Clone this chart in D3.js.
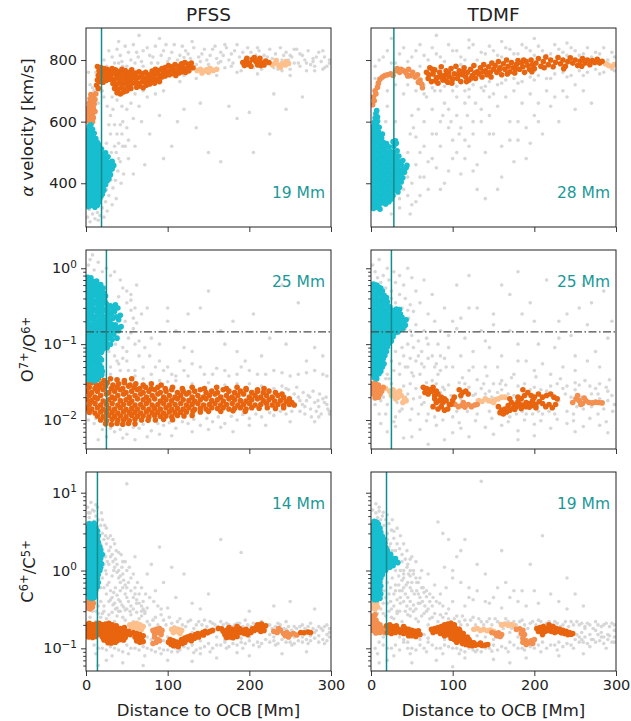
<!DOCTYPE html>
<html>
<head>
<meta charset="utf-8">
<script src="https://cdn.jsdelivr.net/npm/d3@7"></script>
<style>
  body { margin: 0; background: #fff; }
  text { font-family: "DejaVu Sans", sans-serif; }
</style>
</head>
<body>
<svg id="chart" width="631" height="721"></svg>
<script>
// ---------------------------------------------------------------- data
// x = distance to OCB [Mm], y = measured quantity
const columns = ["PFSS", "TDMF"];
const ocbWidth = [[19, 28], [25, 25], [14, 19]]; // boundary width per row, per column
const o7Threshold = 0.145;

// row 1: alpha velocity, PFSS
const pfssVelCyan = [[3,324],[7,328],[11,322],[14,329],[1,339],[5,336],[9,341],[13,335],[16,340],[3,352],[7,349],[11,354],[15,350],[18,355],[1,365],[5,362],[9,367],[13,363],[17,368],[20,364],[3,378],[7,375],[11,380],[15,376],[19,381],[22,377],[1,391],[5,388],[9,393],[13,389],[17,394],[21,390],[24,395],[3,404],[7,401],[11,406],[15,402],[19,407],[23,403],[26,408],[1,417],[5,414],[9,419],[13,415],[17,420],[21,416],[25,421],[28,415],[3,430],[7,427],[11,432],[15,428],[19,433],[23,429],[27,434],[30,428],[1,443],[5,440],[9,445],[13,441],[17,446],[21,442],[25,447],[29,441],[32,446],[3,456],[7,453],[11,458],[15,454],[19,459],[23,455],[27,460],[31,454],[34,458],[1,469],[5,466],[9,471],[13,467],[17,472],[21,468],[25,473],[29,467],[32,471],[3,482],[7,479],[11,484],[15,480],[19,485],[23,481],[27,486],[1,495],[5,492],[9,497],[13,493],[17,498],[21,494],[24,499],[3,508],[7,505],[11,510],[15,506],[19,511],[1,521],[5,518],[9,523],[13,519],[16,524],[3,534],[7,531],[11,536],[14,532],[1,547],[5,544],[9,549],[12,545],[3,560],[7,557],[10,562],[2,573],[5,570],[8,575],[4,585],[6,590]];
const pfssVelMid = [[2,602],[5,606],[8,600],[3,616],[6,620],[9,613],[2,630],[5,634],[8,628],[11,633],[3,645],[6,649],[9,643],[4,660],[7,664],[10,657],[5,674],[8,678],[11,672],[6,688],[9,685],[12,690]];
const pfssVelLight = [[136,766],[140,770],[144,764],[148,769],[152,772],[156,766],[160,770],[142,758],[150,760],[228,785],[232,790],[236,782],[240,788],[244,784],[248,789],[233,798],[238,776],[245,795]];
const pfssVelOrange = [[14,779],[18,776],[22,772],[26,770],[16,765],[20,760],[24,757],[28,762],[15,750],[19,746],[23,742],[27,748],[14,735],[17,730],[21,728],[25,734],[13,718],[15,708],[29,738],[30,752],
  [32,772],[36,768],[40,763],[44,770],[48,766],[52,760],[56,768],[33,756],[37,752],[41,748],[45,755],[49,750],[53,746],[57,752],[31,740],[35,736],[39,742],[43,736],[47,740],[51,734],[55,738],[59,744],[33,724],[37,720],[41,726],[45,722],[49,727],[53,721],[57,725],[35,708],[39,704],[43,710],[47,706],[51,712],[55,708],[38,694],[42,690],[46,696],[50,700],
  [61,758],[65,762],[69,755],[73,760],[77,752],[81,764],[85,770],[89,766],[93,772],[97,776],[63,742],[67,746],[71,740],[75,744],[79,748],[83,752],[87,756],[91,750],[95,760],[99,762],[61,728],[65,724],[69,730],[73,726],[77,732],[81,736],[85,738],[89,740],[93,745],[97,748],[62,712],[66,716],[70,710],[74,718],[78,722],[84,725],[90,730],
  [101,782],[105,778],[109,785],[113,780],[117,788],[121,792],[125,786],[129,790],[103,766],[107,770],[111,764],[115,772],[119,776],[123,772],[127,778],[131,775],[102,752],[106,756],[110,750],[114,758],[118,762],[122,760],[126,765],
  [192,792],[196,798],[200,790],[204,802],[208,795],[212,800],[216,790],[220,797],[224,792],[194,782],[198,786],[202,780],[210,785],[214,782],[218,784],[197,806],[206,808],[213,806]];
const pfssVelGray = [[22,800],[28,830],[35,790],[42,815],[48,845],[55,800],[62,825],[68,795],[75,840],[82,810],[88,790],[95,830],[102,805],[108,850],[115,815],[122,830],[128,805],[135,785],[142,820],[148,800],[155,835],[162,790],[168,815],[175,800],[182,830],[188,810],[195,780],[202,825],[208,815],[215,770],[222,810],[228,805],[235,770],[242,815],[248,800],[255,790],[262,820],[268,800],[275,785],[282,810],[288,795],[295,780],
  [30,760],[45,780],[60,790],[80,790],[100,795],[120,808],[140,795],[160,805],[180,790],[200,805],[220,785],[240,800],[260,790],[280,780],[298,800],[150,760],[170,775],[190,765],[230,775],[250,770],[270,765],[290,770],[135,740],[115,730],[250,750],[210,755],[40,860],[90,870],[130,860],[170,850],[210,840],[255,835],[290,830],[65,880],
  [25,780],[32,810],[38,835],[44,795],[52,825],[58,850],[64,810],[70,830],[78,815],[85,845],[92,815],[98,850],[105,825],[112,800],[118,845],[125,820],[132,840],[138,810],[145,835],[152,815],[158,845],[165,825],[172,840],[178,820],[185,850],[192,825],[198,840],[205,800],[212,830],[218,815],[225,835],[232,820],[238,840],[245,825],[252,810],[258,835],[265,815],[272,830],[278,805],[285,825],[292,810],[298,790],[150,785],[165,795],[178,780],[195,795],[205,775],[225,790],[245,785],[262,780],[278,795],[292,775],[185,760],[240,765],[280,765],[160,750],[130,770],[110,770],[90,770],[70,780],[50,780],[40,790],[120,750],[210,780],[250,815],[270,790],
  [2,290],[5,275],[8,300],[11,285],[14,305],[4,315],[17,295],[20,320],[24,340],[28,360],[33,385],[36,410],[39,440],[42,470],[37,500],[40,530],[44,560],[35,590],[30,620],[26,650],[22,680],[18,700],[45,600],[50,640],[55,660],[48,520],[52,480],[46,430],[30,560],[25,530],[32,680],[40,700],[60,690],[70,700],[12,690],[8,710],[5,720],[3,760],
  [6,330],[9,350],[3,380],[25,380],[30,410],[28,440],[33,470],[35,520],[27,460],[31,500],[38,560],[42,590],[28,590],[33,640],[38,670],[45,690],[48,720],[15,660],[20,700],[10,700],[55,720],[62,710],[50,580],[58,610],[65,650],[75,680],[85,690],[95,700],[52,540],[45,520],[40,480],[43,400],[37,350],[32,330],[26,310],[15,280],[22,290],[44,650],[36,720],[25,740],[12,760],[18,740],
  [68,600],[78,560],[90,620],[105,520],[120,640],[135,580],[150,500],[165,470],[185,610],[205,500],[225,560],[245,640],[265,680],[58,430],[72,460],[95,480],[112,600],[140,660],[175,650],[200,630],[230,690],[60,520]];

// row 1: alpha velocity, TDMF
const tdmfVelCyan = [[3,318],[7,322],[11,316],[2,332],[6,335],[10,330],[14,337],[18,333],[22,340],[1,346],[5,349],[9,344],[13,351],[17,347],[21,353],[25,349],[3,360],[7,363],[11,358],[15,365],[19,361],[23,366],[27,360],[1,374],[5,377],[9,372],[13,379],[17,375],[21,380],[25,374],[29,378],[33,372],[3,388],[7,391],[11,386],[15,393],[19,389],[23,394],[27,388],[31,392],[35,387],[1,402],[5,405],[9,400],[13,407],[17,403],[21,408],[25,402],[29,406],[33,400],[37,404],[3,416],[7,419],[11,414],[15,421],[19,417],[23,422],[27,416],[31,420],[35,414],[39,418],[1,430],[5,433],[9,428],[13,435],[17,431],[21,436],[25,430],[29,434],[33,428],[37,432],[41,436],[3,444],[7,447],[11,442],[15,449],[19,445],[23,450],[27,444],[31,448],[35,442],[39,446],[43,450],[1,458],[5,461],[9,456],[13,463],[17,459],[21,464],[25,458],[29,462],[33,456],[37,460],[44,458],[3,472],[7,475],[11,470],[15,477],[19,473],[23,478],[27,472],[31,476],[35,470],[39,474],[1,486],[5,489],[9,484],[13,491],[17,487],[21,492],[25,486],[29,490],[34,488],[3,500],[7,503],[11,498],[15,505],[19,501],[24,504],[28,500],[32,505],[1,514],[5,517],[9,512],[13,519],[17,515],[22,518],[28,520],[31,530],[27,535],[30,538],[3,528],[7,531],[11,526],[15,533],[19,529],[1,542],[5,545],[9,540],[13,547],[3,556],[7,559],[11,554],[14,560],[1,570],[5,573],[9,568],[3,584],[7,587],[10,582],[4,598],[8,601],[5,612],[8,615],[6,626],[7,636]];
const tdmfVelMid = [[2,655],[4,668],[3,680],[6,690],[5,700],[8,712],[9,725],[11,738],[14,745],[17,750],[20,752],[24,755],[27,750],[30,765],[32,772],[35,760],[37,770],[40,765],[43,758],[46,770],[48,750],[51,760],[54,745],[57,752],[60,735],[62,722],[63,710],[58,728],[45,748]];
const tdmfVelLight = [[287,788],[291,782],[295,778],[298,785]];
const tdmfVelOrange = [[68,760],[70,740],[72,775],[74,730],[76,755],[78,768],[80,742],[82,725],[84,760],[86,778],[88,735],[90,750],[92,765],[94,728],[96,745],[98,772],[100,738],[71,752],[79,732],[87,748],[95,758],[99,725],[75,770],[83,745],[91,735],
  [102,755],[104,780],[106,740],[108,765],[110,730],[112,752],[114,775],[116,745],[118,760],[120,735],[122,770],[124,750],[126,782],[128,740],[130,762],[132,755],[134,775],[136,745],[138,785],[140,765],[142,752],[144,778],[146,760],[148,790],[150,770],[107,752],[117,730],[127,758],[137,762],[147,745],[113,762],[123,742],
  [152,782],[154,760],[156,795],[158,775],[160,752],[162,788],[164,770],[166,800],[168,780],[170,762],[172,792],[174,775],[176,758],[178,785],[180,798],[182,770],[184,790],[186,778],[188,760],[190,795],[192,782],[194,770],[196,800],[198,785],[200,772],[157,768],[167,755],[177,770],[187,800],[197,762],
  [202,790],[205,805],[208,780],[211,795],[214,810],[217,785],[220,800],[223,778],[226,793],[229,808],[232,788],[235,800],[238,780],[241,795],[244,807],[247,790],[250,800],[253,782],[256,796],[259,805],[262,790],[265,800],[268,785],[271,798],[274,792],[277,802],[280,790],[283,796],[212,775],[236,772],[258,780]];
const tdmfVelGray = [[10,800],[20,830],[30,790],[40,840],[50,810],[60,850],[70,800],[80,820],[90,795],[100,830],[110,810],[120,840],[130,800],[140,820],[150,830],[160,810],[170,835],[180,820],[190,840],[200,815],[210,830],[220,820],[230,835],[240,815],[250,830],[260,820],[270,810],[280,820],[290,800],[298,810],[35,760],[55,700],[65,690],[75,710],[85,700],[105,715],[115,700],[125,720],[135,710],[145,730],[155,720],[165,735],[175,740],[185,730],[195,745],[205,750],[215,740],[225,755],[235,760],[245,750],[255,765],[265,760],[275,770],[285,760],[295,770],[60,780],[110,785],[160,860],[200,870],[80,880],[240,855],[120,865],[25,870],
  [5,780],[15,810],[25,790],[35,820],[45,795],[55,830],[65,815],[75,840],[85,810],[95,850],[105,830],[115,800],[125,850],[135,825],[145,845],[155,815],[165,840],[175,820],[185,850],[195,830],[205,845],[215,815],[225,850],[235,825],[245,840],[255,815],[265,840],[275,825],[285,840],[295,825],[90,715],[100,700],[120,705],[140,715],[160,725],[180,725],[200,735],[220,740],[240,745],[260,750],[280,755],[298,765],[270,790],[290,790],[240,790],[210,790],[15,750],[45,720],[50,745],[65,720],[20,700],[30,720],[40,690],[10,720],[5,740],
  [15,330],[25,300],[35,320],[45,360],[55,340],[50,400],[60,420],[70,380],[80,450],[90,400],[100,480],[110,430],[120,520],[130,460],[140,500],[150,560],[160,420],[170,600],[180,540],[190,480],[200,620],[210,560],[220,650],[230,600],[240,680],[250,640],[260,700],[270,660],[45,500],[55,550],[65,600],[75,640],[85,520],[95,580],[105,620],[115,660],[125,600],[135,640],[145,680],[40,450],[30,600],[20,650],[50,620],[60,500],[70,470],[80,560],[90,660],[100,540],[110,580],[120,680],[130,380],[140,350],[155,380],[175,470],[195,530],[215,700],[48,300],[38,420],[28,520],[18,600],
  [35,350],[45,420],[55,460],[65,520],[75,560],[85,600],[95,640],[105,680],[65,420],[75,480],[85,380],[95,440],[105,500],[115,540],[125,560],[135,600],[145,620],[155,650],[165,680],[175,700],[185,660],[195,690],[205,660],[225,680],[235,700],[250,720],[115,480],[125,440],[145,560],[160,520],[170,540],[180,600],[190,580],[205,600],[48,560],[52,580],[58,640],[68,680],[78,700],[88,620],[98,600],[108,560],[118,620],[128,660],[138,700],[150,690],[40,380],[50,330],[60,360],[30,380]];

// row 2: O7+/O6+, PFSS
const pfssOxCyan = [[2,0.76],[6,0.75],[1,0.68],[5,0.69],[9,0.67],[13,0.68],[3,0.6],[7,0.61],[11,0.59],[15,0.6],[18,0.61],[1,0.54],[5,0.53],[9,0.55],[13,0.54],[17,0.53],[21,0.55],[3,0.48],[7,0.49],[11,0.47],[15,0.48],[19,0.49],[22,0.47],[1,0.43],[5,0.42],[9,0.44],[13,0.43],[17,0.42],[21,0.44],[24,0.43],[3,0.38],[7,0.39],[11,0.37],[15,0.38],[19,0.39],[23,0.37],[1,0.34],[5,0.33],[9,0.35],[13,0.34],[17,0.33],[21,0.35],[25,0.34],[30,0.32],[36,0.33],[3,0.3],[7,0.31],[11,0.29],[15,0.3],[19,0.31],[23,0.29],[27,0.3],[33,0.29],[39,0.3],[1,0.27],[5,0.26],[9,0.28],[13,0.27],[17,0.26],[21,0.28],[25,0.27],[29,0.26],[35,0.27],[3,0.24],[7,0.25],[11,0.23],[15,0.24],[19,0.25],[23,0.23],[27,0.24],[31,0.25],[37,0.23],[42,0.24],[1,0.21],[5,0.22],[9,0.21],[13,0.2],[17,0.21],[21,0.22],[25,0.2],[29,0.21],[33,0.22],[40,0.21],[3,0.19],[7,0.18],[11,0.19],[15,0.185],[19,0.19],[23,0.18],[27,0.19],[31,0.185],[36,0.18],[1,0.17],[5,0.165],[9,0.17],[13,0.168],[17,0.165],[21,0.17],[25,0.165],[29,0.17],[33,0.16],[38,0.165],[43,0.17],[3,0.15],[7,0.152],[11,0.148],[15,0.15],[19,0.153],[23,0.147],[27,0.15],[31,0.152],[35,0.148],[40,0.15],[1,0.135],[5,0.133],[9,0.137],[13,0.135],[17,0.132],[21,0.136],[25,0.134],[29,0.13],[34,0.135],[3,0.12],[7,0.122],[11,0.118],[15,0.12],[19,0.123],[23,0.118],[27,0.12],[32,0.115],[38,0.12],[1,0.107],[5,0.105],[9,0.108],[13,0.106],[17,0.104],[21,0.108],[25,0.103],[30,0.1],[3,0.095],[7,0.096],[11,0.093],[15,0.095],[19,0.097],[23,0.093],[26,0.09],[1,0.085],[5,0.084],[9,0.086],[13,0.085],[17,0.083],[21,0.086],[3,0.076],[7,0.077],[11,0.075],[15,0.076],[19,0.078],[1,0.068],[5,0.067],[9,0.069],[13,0.068],[17,0.066],[3,0.06],[7,0.061],[11,0.059],[15,0.06],[19,0.062],[1,0.054],[5,0.053],[9,0.055],[13,0.054],[17,0.053],[3,0.048],[7,0.049],[11,0.047],[15,0.048],[19,0.049],[1,0.043],[5,0.042],[9,0.044],[13,0.043],[17,0.042],[20,0.044],[3,0.038],[7,0.039],[11,0.037],[15,0.038],[19,0.039],[2,0.034],[6,0.034],[10,0.033],[14,0.034]];
const pfssOxMid = [];
const pfssOxLight = [];
const pfssOxOrange = [[9,0.034],[15,0.035],[22,0.033],[30,0.035],[38,0.034],[47,0.033],[56,0.035],
  [1,0.03],[7,0.031],[13,0.029],[19,0.03],[26,0.031],[33,0.029],[40,0.03],[47,0.031],[54,0.029],[61,0.03],[70,0.029],[80,0.03],[92,0.029],
  [4,0.027],[11,0.026],[17,0.027],[24,0.028],[31,0.026],[38,0.027],[45,0.026],[52,0.028],[59,0.027],[66,0.026],[73,0.027],[80,0.026],[88,0.027],[97,0.026],[106,0.027],[118,0.026],[130,0.027],[145,0.026],[160,0.027],[172,0.026],[185,0.027],[196,0.026],[210,0.025],[218,0.026],
  [1,0.024],[7,0.023],[14,0.024],[21,0.025],[28,0.023],[35,0.024],[42,0.025],[49,0.023],[56,0.024],[63,0.025],[70,0.023],[77,0.024],[84,0.025],[91,0.023],[98,0.024],[105,0.025],[112,0.023],[119,0.024],[126,0.023],[133,0.024],[140,0.025],[147,0.023],[154,0.024],[161,0.023],[168,0.025],[175,0.024],[182,0.023],[189,0.024],[196,0.025],[203,0.023],[210,0.024],[217,0.023],[224,0.024],[232,0.023],[240,0.022],
  [4,0.021],[11,0.02],[18,0.021],[25,0.022],[32,0.02],[39,0.021],[46,0.022],[53,0.02],[60,0.021],[67,0.022],[74,0.02],[81,0.021],[88,0.022],[95,0.02],[102,0.021],[109,0.02],[116,0.021],[123,0.022],[130,0.02],[137,0.021],[144,0.02],[151,0.021],[158,0.022],[165,0.02],[172,0.021],[179,0.02],[186,0.021],[193,0.022],[200,0.02],[207,0.021],[214,0.02],[221,0.021],[228,0.02],[235,0.021],[242,0.02],[249,0.019],
  [1,0.0185],[7,0.018],[14,0.019],[21,0.0178],[28,0.0185],[35,0.019],[42,0.018],[49,0.0185],[56,0.0178],[63,0.019],[70,0.0185],[77,0.018],[84,0.019],[91,0.0178],[98,0.0185],[105,0.018],[112,0.019],[119,0.0185],[126,0.018],[133,0.0178],[140,0.0185],[147,0.019],[154,0.018],[161,0.0185],[168,0.0178],[175,0.019],[182,0.0185],[189,0.018],[196,0.0178],[203,0.0185],[210,0.019],[217,0.018],[224,0.0185],[231,0.0178],[238,0.018],[245,0.0175],[252,0.017],
  [4,0.016],[11,0.0165],[18,0.0158],[25,0.016],[32,0.0165],[39,0.0158],[46,0.016],[53,0.0165],[60,0.0158],[67,0.016],[74,0.0165],[81,0.0158],[88,0.016],[95,0.0165],[102,0.0158],[109,0.016],[116,0.0165],[123,0.0158],[130,0.016],[137,0.0165],[144,0.0158],[151,0.016],[158,0.0165],[165,0.0158],[172,0.016],[179,0.0165],[186,0.0158],[193,0.016],[200,0.0165],[207,0.0158],[214,0.016],[221,0.0165],[228,0.0158],[235,0.016],[242,0.0155],[249,0.016],[255,0.0158],
  [1,0.0143],[7,0.014],[14,0.0145],[21,0.0138],[28,0.0143],[35,0.014],[42,0.0145],[49,0.0138],[56,0.0143],[63,0.014],[70,0.0145],[77,0.0138],[84,0.0143],[91,0.014],[98,0.0145],[105,0.0138],[112,0.0143],[119,0.014],[126,0.0145],[133,0.0138],[140,0.0143],[147,0.014],[154,0.0145],[161,0.0142],[168,0.0145],[175,0.014],[182,0.0143],[189,0.0145],[196,0.014],[203,0.0145],[212,0.0143],[222,0.0145],[232,0.0142],[242,0.0145],
  [4,0.0127],[11,0.0124],[18,0.0128],[25,0.0125],[32,0.0127],[39,0.0124],[46,0.0128],[53,0.0125],[60,0.0127],[67,0.0124],[74,0.0128],[81,0.0125],[88,0.0127],[95,0.0124],[102,0.0128],[109,0.0125],[116,0.0127],[123,0.0128],[131,0.013],[140,0.0128],[150,0.013],[165,0.013],[180,0.0132],[195,0.013],
  [14,0.0113],[21,0.011],[28,0.0115],[35,0.0112],[42,0.0113],[49,0.011],[56,0.0115],[63,0.0112],[70,0.0113],[77,0.011],[84,0.0115],[91,0.0112],[98,0.0113],[105,0.011],[112,0.0115],[120,0.0113],[130,0.0115],
  [18,0.01],[25,0.0098],[32,0.0102],[39,0.0099],[46,0.01],[53,0.0098],[60,0.0102],[68,0.01],[76,0.0099],[85,0.01],[95,0.0102],[106,0.0101],
  [24,0.0089],[31,0.0087],[38,0.009],[45,0.0088],[52,0.009],[60,0.0089]];
const pfssOxGray = [[260,0.02],[265,0.016],[270,0.018],[275,0.014],[280,0.017],[285,0.015],[290,0.019],[295,0.016],[298,0.013],[262,0.013],[272,0.021],[288,0.012],[278,0.024],
  [262,0.018],[268,0.015],[274,0.02],[282,0.013],[286,0.022],[292,0.017],[296,0.014],[266,0.023],[276,0.011],[294,0.02],[284,0.018],
  [5,1.3],[10,0.95],[3,1.1],[20,0.9],[30,0.8],[45,0.55],[40,0.42],[50,0.35],[55,0.28],[48,0.2],[58,0.16],[52,0.12],[45,0.09],[35,0.07],[40,0.055],[30,0.05],[50,0.06],[60,0.045],[28,0.08],[36,0.1],[65,0.07],[70,0.05],[80,0.04],[90,0.06],[100,0.05],[110,0.038],[120,0.045],[130,0.055],[145,0.04],[160,0.048],[175,0.038],[190,0.05],[210,0.04],[230,0.045],[250,0.038],[270,0.042],[290,0.04],
  [5,0.6],[8,1.5],[15,1.2],[25,1.0],[35,0.9],[42,0.7],[50,0.5],[55,0.38],[60,0.3],[58,0.22],[62,0.19],[55,0.14],[60,0.1],[50,0.08],[45,0.065],[38,0.06],[52,0.045],[42,0.045],[30,0.04],[22,0.04],[65,0.11],[72,0.09],[78,0.07],[85,0.05],[95,0.045],[105,0.04],[115,0.06],[125,0.038],[140,0.05],[155,0.04],[170,0.045],[185,0.04],[200,0.045],[220,0.04],[240,0.042],[260,0.04],[280,0.045],[295,0.038],
  [80,0.12],[100,0.2],[120,0.09],[140,0.3],[165,0.15],[185,0.08],[205,0.25],[225,0.12],[260,0.35],[280,0.09],[75,0.3],[150,0.5],[240,0.6],[55,0.45],[62,0.6],[68,0.25],
  [90,0.1],[110,0.15],[130,0.08],[170,0.1],[195,0.06],[215,0.07],[245,0.1],[270,0.06],[290,0.07],[100,0.3],[180,0.2],[125,0.25],
  [20,0.0075],[35,0.007],[50,0.0065],[65,0.0078],[80,0.0072],[95,0.0085],[110,0.0078],[125,0.009],[140,0.0085],[155,0.0095],[170,0.009],[185,0.01],[200,0.0105],[215,0.011],[230,0.0115],[245,0.012],[10,0.009],[15,0.0055],[45,0.0058],[75,0.006],[105,0.0062],[150,0.0075],[180,0.007],[220,0.0085],
  [30,0.0078],[42,0.0075],[58,0.008],[70,0.0088],[88,0.009],[102,0.0092],[118,0.0095],[132,0.0102],[148,0.0105],[162,0.011],[178,0.0112],[192,0.0118],[208,0.012],[225,0.0125],[238,0.013],[252,0.013],[268,0.012],[285,0.011],[298,0.012],[25,0.006],[60,0.0055],[90,0.0065],[130,0.007],[165,0.008],[200,0.0085],[250,0.0095],[280,0.0095],
  [2,0.04],[8,0.036],[5,0.012],[3,0.01],[12,0.0105],[110,0.033],[150,0.031],[200,0.03],[240,0.028],[230,0.026],[248,0.025],[255,0.022],[258,0.027],
  [130,0.03],[170,0.029],[185,0.03],[215,0.028],[245,0.026],[100,0.032],[90,0.033],[70,0.035],[60,0.038]];

// row 2: O7+/O6+, TDMF
const tdmfOxCyan = [[3,0.62],[7,0.6],[1,0.56],[5,0.55],[9,0.57],[12,0.55],[3,0.5],[7,0.51],[11,0.49],[14,0.5],[1,0.45],[5,0.44],[9,0.46],[13,0.45],[16,0.44],[3,0.4],[7,0.41],[11,0.39],[15,0.4],[19,0.41],[1,0.36],[5,0.35],[9,0.37],[13,0.36],[17,0.35],[20,0.36],[3,0.32],[7,0.33],[11,0.31],[15,0.32],[19,0.33],[23,0.31],[1,0.285],[5,0.28],[9,0.29],[13,0.285],[17,0.28],[21,0.29],[26,0.28],[31,0.29],[35,0.285],[3,0.255],[7,0.26],[11,0.25],[15,0.255],[19,0.26],[23,0.25],[27,0.255],[31,0.26],[36,0.25],[1,0.228],[5,0.225],[9,0.23],[13,0.228],[17,0.225],[21,0.23],[25,0.228],[29,0.225],[33,0.23],[38,0.225],[3,0.203],[7,0.2],[11,0.205],[15,0.203],[19,0.2],[23,0.205],[27,0.203],[31,0.2],[35,0.205],[40,0.2],[43,0.21],[1,0.181],[5,0.178],[9,0.183],[13,0.18],[17,0.178],[21,0.183],[25,0.18],[29,0.178],[33,0.183],[37,0.18],[42,0.178],[3,0.161],[7,0.16],[11,0.163],[15,0.16],[19,0.158],[23,0.162],[27,0.16],[31,0.158],[35,0.163],[39,0.16],[1,0.144],[5,0.142],[9,0.146],[13,0.144],[17,0.142],[21,0.146],[25,0.144],[29,0.14],[33,0.145],[3,0.128],[7,0.126],[11,0.13],[15,0.128],[19,0.126],[23,0.13],[27,0.125],[1,0.114],[5,0.112],[9,0.116],[13,0.114],[17,0.112],[21,0.115],[25,0.11],[3,0.102],[7,0.1],[11,0.104],[15,0.102],[19,0.1],[22,0.103],[1,0.091],[5,0.09],[9,0.093],[13,0.091],[17,0.09],[20,0.092],[3,0.081],[7,0.08],[11,0.083],[15,0.081],[19,0.08],[1,0.072],[5,0.071],[9,0.074],[13,0.072],[17,0.071],[3,0.064],[7,0.063],[11,0.066],[15,0.064],[1,0.057],[5,0.056],[9,0.058],[13,0.057],[16,0.055],[3,0.051],[7,0.05],[11,0.052],[14,0.05],[1,0.045],[5,0.044],[9,0.046],[12,0.044],[3,0.04],[7,0.039],[10,0.041],[4,0.036],[7,0.035]];
const tdmfOxMid = [[1,0.03],[5,0.031],[9,0.029],[3,0.027],[7,0.028],[11,0.026],[1,0.024],[5,0.025],[9,0.023],[13,0.024],[3,0.022],[7,0.021],[11,0.022],[5,0.0195],[9,0.02],[15,0.027],
  [103,0.016],[107,0.015],[111,0.0155],[115,0.0148],[119,0.016],[123,0.015],[127,0.0158],[130,0.016],[113,0.017],
  [247,0.017],[251,0.019],[255,0.018],[259,0.0165],[263,0.018],[267,0.017],[271,0.0168],[275,0.0172],[279,0.017],[283,0.0168],[253,0.021],[257,0.016],[261,0.0195]];
const tdmfOxLight = [[23,0.024],[27,0.025],[31,0.023],[35,0.024],[25,0.021],[29,0.022],[33,0.02],[37,0.021],[41,0.019],[39,0.017],[43,0.018],[30,0.019],[18,0.026],
  [132,0.018],[136,0.0175],[140,0.019],[144,0.018],[148,0.0175],[152,0.0185],[156,0.019],[160,0.02],[164,0.02],[150,0.017]];
const tdmfOxOrange = [[64,0.027],[68,0.026],[72,0.025],[76,0.027],[80,0.024],[66,0.023],[70,0.022],[74,0.024],[78,0.021],[82,0.022],[86,0.02],[90,0.019],[84,0.018],[88,0.017],[92,0.018],[96,0.016],[80,0.017],[76,0.015],[82,0.014],[86,0.015],[90,0.0135],[94,0.014],[98,0.016],[100,0.018],[102,0.02],[78,0.019],
  [108,0.025],[112,0.023],[116,0.024],[119,0.022],[110,0.021],
  [156,0.015],[160,0.0135],[164,0.014],[168,0.0155],[172,0.017],[176,0.016],[180,0.0175],[184,0.019],[188,0.021],[192,0.023],[186,0.025],[190,0.017],[194,0.0165],[198,0.018],[202,0.016],[206,0.0175],[210,0.0165],[214,0.015],[218,0.016],[222,0.0145],[226,0.016],[158,0.0125],[162,0.012],[166,0.0128],[170,0.0135],[174,0.0145],[178,0.015],[182,0.016],[186,0.0158],[190,0.015],[194,0.0148],[198,0.0155],[202,0.0145],[176,0.0138],[184,0.0142],[205,0.022],[210,0.02],[215,0.021],[220,0.022],[224,0.02],[228,0.019],[196,0.021],[200,0.02],[180,0.02],[170,0.019]];
const tdmfOxGray = [[10,0.012],[20,0.016],[30,0.011],[40,0.028],[50,0.014],[60,0.02],[70,0.012],[80,0.03],[90,0.025],[100,0.011],[110,0.019],[120,0.027],[130,0.012],[140,0.022],[150,0.03],[160,0.025],[170,0.011],[180,0.028],[190,0.012],[200,0.027],[210,0.012],[220,0.028],[230,0.018],[240,0.013],[250,0.025],[260,0.014],[270,0.022],[280,0.019],[290,0.024],[298,0.016],
  [15,0.02],[25,0.03],[35,0.013],[45,0.022],[55,0.026],[65,0.017],[75,0.033],[85,0.023],[95,0.029],[105,0.013],[115,0.03],[125,0.021],[135,0.026],[145,0.013],[155,0.023],[165,0.029],[175,0.021],[185,0.013],[195,0.025],[205,0.013],[215,0.024],[225,0.012],[235,0.026],[245,0.02],[255,0.029],[265,0.017],[275,0.026],[285,0.014],[295,0.021],
  [5,0.016],[18,0.012],[28,0.02],[38,0.014],[48,0.03],[58,0.012],[68,0.031],[78,0.011],[88,0.027],[98,0.021],[108,0.031],[118,0.013],[128,0.022],[138,0.03],[148,0.02],[158,0.03],[168,0.022],[178,0.012],[188,0.03],[198,0.012],[208,0.025],[218,0.013],[228,0.03],[238,0.022],[248,0.012],[258,0.02],[268,0.028],[278,0.012],[288,0.027],[296,0.013],[240,0.028],[252,0.015],[278,0.022],[290,0.018],[270,0.015],[130,0.018],[145,0.024],[122,0.016],[62,0.016],[52,0.019],[42,0.02],[32,0.017],[12,0.018],[18,0.035],[10,0.04],[5,0.045],
  [12,0.009],[28,0.0095],[48,0.01],[68,0.0098],[88,0.01],[108,0.0092],[128,0.0098],[148,0.0105],[168,0.0095],[188,0.01],[208,0.0098],[228,0.0102],[248,0.0098],[268,0.0105],[288,0.0095],
  [20,0.007],[60,0.0075],[100,0.0068],[140,0.008],[180,0.0072],[220,0.0078],[260,0.0082],[290,0.0068],[40,0.0058],[120,0.006],[200,0.0062],[70,0.0048],
  [30,0.0082],[80,0.0085],[110,0.0078],[160,0.0085],[200,0.0088],[240,0.009],[280,0.0085],[50,0.006],[150,0.0065],[250,0.007],[180,0.0055],[90,0.0055],
  [22,0.035],[52,0.038],[82,0.04],[112,0.036],[142,0.038],[172,0.036],[202,0.037],[232,0.035],[262,0.033],[292,0.034],[280,0.03],[250,0.031],[160,0.033],[130,0.034],
  [2,1.1],[5,0.9],[8,0.75],[15,0.8],[22,0.7],[30,0.65],[25,0.5],[35,0.45],[42,0.4],[48,0.33],[52,0.27],[46,0.22],[55,0.18],[50,0.13],[58,0.11],[45,0.1],[38,0.09],[30,0.08],[40,0.07],[25,0.06],[35,0.055],[28,0.045],[45,0.05],[55,0.06],[62,0.08],[70,0.1],[75,0.07],[65,0.05],[80,0.055],[85,0.045],[60,0.04],[90,0.065],[95,0.09],[100,0.05],[20,0.04],[40,0.6],[60,0.35],[70,0.25],[75,0.45],[85,0.15],[90,0.3],[65,0.15],
  [8,0.5],[12,0.65],[18,0.55],[25,0.4],[20,0.3],[30,0.35],[38,0.3],[45,0.28],[42,0.16],[48,0.15],[52,0.09],[58,0.07],[48,0.065],[42,0.05],[35,0.04],[50,0.042],[62,0.055],[70,0.065],[78,0.05],[85,0.07],[92,0.05],[68,0.12],[78,0.2],[82,0.1],[95,0.13],[100,0.2],[55,0.5],[65,0.7],[50,0.75],[35,0.8],[28,0.9],[20,1.0],[10,1.3],[45,1.0],
  [105,0.6],[115,0.12],[125,0.08],[130,0.3],[140,0.05],[150,0.18],[160,0.07],[170,0.45],[180,0.1],[190,0.06],[200,0.2],[215,0.7],[225,0.09],[235,0.05],[245,0.13],[255,0.3],[265,0.06],[275,0.08],[285,0.5],[120,0.045],[175,0.04],[110,0.22],[145,0.09],[195,0.35],[135,0.15],[210,0.055],[230,0.2],[250,0.07],[265,0.18],[290,0.12],[160,0.6],[105,0.16],[140,0.11],[185,0.25],
  [110,0.07],[125,0.05],[155,0.05],[180,0.06],[200,0.045],[220,0.04],[250,0.045],[280,0.05],[120,0.3],[150,0.25],[170,0.15],[205,0.1],[240,0.25],[270,0.35],[295,0.2],[120,0.8],[180,0.9],[260,0.6],[230,0.12]];

// row 3: C6+/C5+, PFSS
const pfssCCyan = [[4,4.0],[7,3.9],[10,4.05],[3,3.6],[6,3.55],[9,3.65],[12,3.6],[2,3.2],[5,3.25],[8,3.15],[11,3.2],[14,3.25],[3,2.85],[6,2.8],[9,2.9],[12,2.85],[15,2.8],[2,2.55],[5,2.5],[8,2.6],[11,2.55],[14,2.5],[3,2.25],[6,2.3],[9,2.2],[12,2.25],[15,2.3],[2,2.0],[5,1.97],[8,2.03],[11,2.0],[14,1.97],[17,2.02],[3,1.8],[6,1.78],[9,1.82],[12,1.8],[15,1.78],[18,1.8],[2,1.6],[5,1.62],[8,1.58],[11,1.6],[14,1.62],[17,1.58],[20,1.6],[3,1.42],[6,1.4],[9,1.44],[12,1.42],[15,1.4],[18,1.44],[2,1.27],[5,1.25],[8,1.29],[11,1.27],[14,1.25],[17,1.29],[19,1.22],[3,1.13],[6,1.12],[9,1.15],[12,1.13],[15,1.12],[18,1.1],[2,1.0],[5,0.99],[8,1.02],[11,1.0],[14,0.98],[17,1.0],[3,0.9],[6,0.89],[9,0.91],[12,0.9],[15,0.88],[2,0.8],[5,0.79],[8,0.81],[11,0.8],[14,0.79],[3,0.71],[6,0.7],[9,0.72],[12,0.71],[15,0.7],[2,0.63],[5,0.62],[8,0.64],[11,0.63],[14,0.62],[3,0.56],[6,0.55],[9,0.57],[12,0.56],[2,0.5],[5,0.49],[8,0.51],[11,0.5],[4,0.45],[7,0.44],[10,0.45]];
const pfssCMid = [[2,0.33],[5,0.32],[8,0.34],[3,0.37],[6,0.36],[9,0.38],[2,0.41],[5,0.4],[8,0.42],
  [82,0.17],[86,0.175],[90,0.18],[93,0.17],[84,0.155],[88,0.16],[92,0.15],[84,0.14],[88,0.13],[86,0.12],[82,0.115],[90,0.125],
  [230,0.165],[234,0.16],[238,0.17],[242,0.155],[246,0.16],[250,0.15],[254,0.155],[258,0.148],[236,0.18],[244,0.145],[248,0.14]];
const pfssCLight = [[54,0.2],[58,0.205],[62,0.21],[66,0.2],[70,0.19],[56,0.185],[60,0.19],[64,0.18],[68,0.175],
  [105,0.175],[109,0.18],[113,0.175],[117,0.17],[107,0.16],[111,0.165],[115,0.155]];
const pfssCOrange = [[1,0.2],[4,0.21],[8,0.2],[12,0.205],[16,0.21],[20,0.2],[24,0.205],[28,0.21],[32,0.2],[37,0.195],[2,0.185],[6,0.18],[10,0.19],[14,0.185],[18,0.18],[22,0.19],[26,0.185],[30,0.18],[34,0.19],[38,0.185],[42,0.18],[47,0.185],[1,0.168],[4,0.165],[8,0.17],[12,0.168],[16,0.165],[20,0.17],[24,0.168],[28,0.165],[32,0.17],[36,0.168],[40,0.165],[44,0.17],[48,0.168],[52,0.165],[2,0.153],[6,0.15],[10,0.155],[14,0.153],[18,0.15],[22,0.155],[26,0.153],[30,0.15],[34,0.155],[38,0.153],[42,0.15],[46,0.155],[50,0.152],[54,0.15],[3,0.14],[8,0.138],[12,0.142],[20,0.14],[24,0.138],[28,0.142],[32,0.14],[36,0.138],[40,0.142],[44,0.14],[48,0.138],[22,0.128],[26,0.125],[30,0.13],[34,0.127],[38,0.125],[42,0.13],[46,0.128],[27,0.118],[31,0.117],[36,0.12],
  [58,0.16],[62,0.155],[66,0.15],[70,0.145],[60,0.14],[64,0.135],[68,0.13],[62,0.125],[66,0.12],[70,0.122],
  [101,0.12],[104,0.113],[107,0.108],[110,0.11],[113,0.105],[103,0.13],[107,0.125],[111,0.12],[115,0.118],[118,0.115],[121,0.12],[117,0.13],[121,0.135],[125,0.13],[124,0.14],[128,0.145],[131,0.14],[134,0.15],[137,0.155],[140,0.15],[143,0.16],[146,0.165],[149,0.158],[152,0.165],[155,0.17],[129,0.125],[133,0.135],[138,0.14],[144,0.148],[162,0.18],[166,0.178],
  [168,0.165],[172,0.17],[176,0.16],[180,0.175],[184,0.165],[188,0.18],[192,0.17],[196,0.175],[200,0.165],[204,0.178],[208,0.185],[212,0.19],[216,0.18],[220,0.195],[170,0.15],[174,0.145],[178,0.155],[182,0.15],[186,0.158],[190,0.16],[194,0.155],[198,0.15],[202,0.16],[206,0.17],[210,0.175],[214,0.165],[218,0.17],[172,0.138],[176,0.14],[180,0.137],[185,0.142],[175,0.185],[185,0.19],[215,0.205],[210,0.2],
  [263,0.16],[267,0.158],[272,0.162],[275,0.16]];
const pfssCGray = [[5,0.25],[15,0.28],[25,0.24],[35,0.22],[45,0.25],[55,0.27],[65,0.24],[75,0.22],[85,0.25],[95,0.23],[105,0.21],[115,0.24],[125,0.22],[135,0.2],[145,0.23],[155,0.21],[165,0.22],[175,0.2],[185,0.21],[195,0.23],[205,0.21],[215,0.22],[225,0.2],[235,0.21],[245,0.22],[255,0.19],[265,0.2],[275,0.21],[285,0.19],[295,0.2],
  [2,0.2],[8,0.3],[12,0.22],[18,0.25],[22,0.3],[28,0.27],[32,0.29],[38,0.26],[42,0.3],[48,0.23],[52,0.2],[58,0.22],[62,0.29],[68,0.26],[72,0.28],[78,0.2],[82,0.23],[88,0.2],[92,0.27],[98,0.2],[102,0.25],[108,0.19],[112,0.22],[118,0.2],[122,0.19],[128,0.23],[132,0.18],[138,0.22],[142,0.2],[148,0.19],[152,0.22],[158,0.2],[162,0.19],[168,0.2],[172,0.21],[178,0.19],[182,0.2],[188,0.21],[192,0.19],[198,0.2],[202,0.19],[208,0.2],[212,0.21],[218,0.19],[222,0.2],[228,0.18],[232,0.19],[238,0.2],[242,0.18],[248,0.19],[252,0.17],[258,0.18],[262,0.19],[268,0.18],[272,0.19],[278,0.18],[282,0.17],[288,0.18],[292,0.19],[298,0.18],
  [10,0.11],[20,0.1],[30,0.105],[40,0.095],[50,0.11],[60,0.1],[70,0.105],[80,0.095],[90,0.1],[100,0.095],[110,0.1],[120,0.105],[130,0.11],[140,0.1],[150,0.115],[160,0.11],[170,0.12],[180,0.115],[190,0.12],[200,0.125],[210,0.12],[220,0.13],[230,0.125],[240,0.13],[250,0.12],[260,0.125],[270,0.13],[280,0.135],[290,0.13],[298,0.14],
  [15,0.1],[25,0.095],[35,0.1],[45,0.09],[55,0.1],[65,0.095],[75,0.1],[85,0.09],[95,0.095],[105,0.09],[115,0.095],[125,0.1],[135,0.095],[145,0.105],[155,0.1],[165,0.11],[175,0.105],[185,0.11],[195,0.115],[205,0.11],[215,0.115],[225,0.12],[235,0.115],[245,0.12],[255,0.115],[265,0.12],[275,0.125],[285,0.12],[295,0.125],[22,0.13],[42,0.125],[62,0.12],[80,0.13],[95,0.125],[140,0.125],[170,0.13],[200,0.14],[230,0.14],[255,0.14],[275,0.145],[295,0.15],
  [12,0.085],[32,0.08],[52,0.085],[72,0.08],[92,0.085],[112,0.09],[132,0.088],[152,0.09],[172,0.1],[192,0.1],[212,0.105],[232,0.11],[252,0.11],[272,0.115],[292,0.115],
  [260,0.15],[270,0.17],[280,0.16],[290,0.17],[298,0.16],[265,0.14],[285,0.145],[245,0.175],[225,0.15],[160,0.14],[190,0.135],[130,0.16],[100,0.14],[75,0.14],[60,0.18],
  [25,0.07],[45,0.065],[70,0.06],[100,0.07],[130,0.068],[160,0.075],[200,0.08],[240,0.085],[270,0.09],[15,0.06],[140,0.085],[185,0.088],
  [2,6.5],[5,5.5],[8,6],[12,5],[15,4.5],[18,3.8],[20,3],[22,2.5],[25,2.2],[28,1.8],[30,1.5],[33,1.3],[35,1.1],[38,0.95],[40,0.8],[42,0.7],[45,0.6],[48,0.5],[50,0.45],[52,0.4],[55,0.35],[58,0.32],[20,4.5],[25,3.5],[30,2.8],[35,2.2],[40,1.7],[45,1.3],[50,1.0],[55,0.8],[60,0.6],[65,0.5],[22,1.2],[25,0.9],[28,0.7],[30,0.55],[32,0.45],[35,0.38],[38,0.33],[20,0.8],[22,0.6],[25,0.5],[18,0.4],[15,0.35],[45,0.9],[42,0.55],[62,0.38],[70,0.4],[75,0.33],[68,0.3],[15,2.5],[17,1.5],[20,1.9],[18,0.6],[10,5.8],[4,4.8],[24,1.5],[28,1.2],[32,0.85],[36,0.6],[40,0.42],[44,0.36],[48,0.31],[3,0.42],[12,0.3],
  [5,3.5],[8,2.5],[16,3.2],[18,2.2],[22,1.6],[24,1.0],[26,1.3],[27,2.6],[30,2.0],[32,1.6],[34,1.0],[36,1.4],[38,1.2],[40,1.0],[42,0.85],[44,1.1],[46,0.75],[48,0.65],[50,0.6],[52,0.7],[55,0.55],[58,0.45],[60,0.5],[62,0.42],[65,0.38],[68,0.35],[70,0.32],[72,0.3],[26,0.65],[30,0.42],[33,0.36],[36,0.32],[40,0.3],[22,0.35],[20,0.28],[28,0.4],[34,0.52],[38,0.48],[42,0.4],[46,0.34],[50,0.32],[54,0.3],[24,2.8],[19,5.5],[12,7],[6,7.5],[3,5.5],[10,4.3],[14,6.5],[23,3.8],[33,2.5],[37,1.8],[43,1.6],[48,1.3],[53,1.1],[58,0.9],[63,0.7],[68,0.6],[73,0.5],[78,0.45],[83,0.4],[88,0.35],[92,0.32],
  [50,13],[165,2.5],[190,1.7],[150,0.5],[80,1.2],[95,0.7],[110,0.45],[120,0.9],[85,0.55],[130,0.38],[100,0.33],[140,0.32],[60,1.5],[75,0.9],[105,1.1],[230,0.35],[250,0.4],[200,0.3],[280,0.32],[90,2.0]];

// row 3: C6+/C5+, TDMF
const tdmfCCyan = [[4,4.3],[7,4.2],[3,3.9],[6,3.85],[9,3.95],[2,3.5],[5,3.45],[8,3.55],[11,3.5],[3,3.1],[6,3.15],[9,3.05],[12,3.1],[2,2.8],[5,2.75],[8,2.85],[11,2.8],[14,2.75],[3,2.5],[6,2.55],[9,2.45],[12,2.5],[15,2.55],[2,2.25],[5,2.2],[8,2.3],[11,2.25],[14,2.2],[17,2.25],[3,2.0],[6,2.03],[9,1.97],[12,2.0],[15,2.03],[18,1.97],[2,1.8],[5,1.78],[8,1.82],[11,1.8],[14,1.78],[17,1.82],[20,1.8],[3,1.6],[6,1.62],[9,1.58],[12,1.6],[15,1.62],[18,1.58],[21,1.6],[24,1.62],[2,1.42],[5,1.4],[8,1.44],[11,1.42],[14,1.4],[17,1.44],[20,1.42],[23,1.4],[26,1.44],[30,1.42],[3,1.27],[6,1.29],[9,1.25],[12,1.27],[15,1.29],[18,1.25],[21,1.27],[24,1.29],[28,1.25],[33,1.27],[2,1.13],[5,1.12],[8,1.15],[11,1.13],[14,1.12],[17,1.15],[20,1.13],[23,1.1],[27,1.15],[3,1.0],[6,0.99],[9,1.02],[12,1.0],[15,0.98],[18,1.01],[2,0.9],[5,0.89],[8,0.91],[11,0.9],[14,0.88],[3,0.8],[6,0.79],[9,0.81],[12,0.8],[2,0.71],[5,0.7],[8,0.72],[11,0.71],[3,0.63],[6,0.62],[9,0.64],[12,0.63],[2,0.56],[5,0.55],[8,0.57],[11,0.56],[3,0.5],[6,0.49],[9,0.51],[12,0.5],[2,0.45],[5,0.44],[8,0.45],[11,0.44],[4,0.42],[7,0.42]];
const tdmfCMid = [[2,0.26],[5,0.27],[3,0.24],[6,0.23],[2,0.215],[5,0.2],[8,0.21],[11,0.2],[3,0.185],[6,0.18],[9,0.19],[12,0.185],[15,0.18],[2,0.17],[5,0.165],[8,0.17],[11,0.16],[14,0.165],[17,0.16],[6,0.157],
  [148,0.16],[152,0.155],[156,0.158],[160,0.15],[154,0.145],[158,0.142],
  [178,0.175],[182,0.178],[186,0.17],[184,0.155],[188,0.15],[186,0.135],[190,0.125],[194,0.118],[198,0.115],[186,0.12],[190,0.112],[196,0.125],[200,0.13]];
const tdmfCLight = [[2,0.33],[5,0.32],[8,0.34],[3,0.36],[6,0.37],[4,0.4],[7,0.39],
  [126,0.175],[130,0.18],[134,0.17],[138,0.175],[142,0.168],[146,0.172],[150,0.165],
  [160,0.2],[164,0.205],[168,0.198],[172,0.202],[175,0.195]];
const tdmfCOrange = [[19,0.195],[23,0.2],[27,0.19],[31,0.195],[22,0.175],[26,0.17],[30,0.18],[34,0.175],[38,0.17],[42,0.18],[46,0.175],[50,0.17],[54,0.165],[36,0.16],[40,0.155],[44,0.16],[48,0.155],[52,0.16],[56,0.155],[60,0.15],[46,0.145],[50,0.145],[55,0.142],[20,0.16],[25,0.155],[30,0.16],[58,0.168],[40,0.19],
  [74,0.175],[78,0.18],[82,0.185],[86,0.19],[90,0.2],[94,0.205],[98,0.21],[102,0.2],[76,0.16],[80,0.165],[84,0.17],[88,0.175],[92,0.18],[96,0.19],[100,0.185],[104,0.18],[108,0.175],[85,0.155],[89,0.16],[93,0.165],[97,0.17],[101,0.165],[105,0.16],[109,0.165],[113,0.155],[90,0.145],[94,0.15],[98,0.148],[102,0.145],[106,0.14],[110,0.145],[114,0.138],[118,0.14],[98,0.135],[102,0.13],[106,0.128],[110,0.125],[114,0.122],[118,0.125],[122,0.12],[105,0.12],[112,0.115],[116,0.112],[120,0.11],[124,0.108],[128,0.11],[132,0.112],[136,0.109],[140,0.11],[143,0.112],[126,0.118],[134,0.117],[120,0.13],[95,0.2],
  [203,0.18],[207,0.185],[211,0.19],[215,0.18],[219,0.185],[223,0.19],[227,0.18],[231,0.175],[235,0.17],[239,0.165],[243,0.16],[247,0.155],[205,0.165],[209,0.17],[213,0.165],[217,0.17],[221,0.165],[225,0.16],[229,0.165],[233,0.158],[237,0.155],[241,0.15],[245,0.152],[218,0.2],[210,0.15]];
const tdmfCGray = [[5,0.3],[15,0.28],[25,0.25],[35,0.3],[45,0.27],[55,0.24],[65,0.28],[75,0.25],[85,0.27],[95,0.24],[105,0.26],[115,0.23],[125,0.25],[135,0.22],[145,0.24],[155,0.22],[165,0.24],[175,0.22],[185,0.23],[195,0.21],[205,0.23],[215,0.21],[225,0.22],[235,0.2],[245,0.22],[255,0.2],[265,0.21],[275,0.22],[285,0.2],[295,0.21],
  [2,0.22],[8,0.28],[12,0.32],[18,0.26],[22,0.3],[28,0.24],[32,0.28],[38,0.22],[42,0.3],[48,0.26],[52,0.3],[58,0.22],[62,0.26],[68,0.3],[72,0.24],[78,0.28],[82,0.22],[88,0.25],[92,0.28],[98,0.22],[102,0.24],[108,0.22],[112,0.26],[118,0.2],[122,0.23],[128,0.2],[132,0.24],[138,0.2],[142,0.22],[148,0.2],[152,0.24],[158,0.21],[162,0.18],[168,0.22],[172,0.18],[178,0.2],[182,0.22],[188,0.2],[192,0.18],[198,0.22],[202,0.2],[208,0.22],[212,0.2],[218,0.22],[222,0.2],[228,0.21],[232,0.19],[238,0.22],[242,0.19],[248,0.2],[252,0.22],[258,0.21],[262,0.19],[268,0.2],[272,0.18],[278,0.2],[282,0.19],[288,0.21],[292,0.19],[298,0.2],
  [10,0.12],[20,0.1],[30,0.11],[40,0.12],[50,0.1],[60,0.11],[70,0.12],[80,0.1],[90,0.11],[100,0.1],[110,0.095],[120,0.1],[130,0.095],[140,0.1],[150,0.11],[160,0.105],[170,0.12],[180,0.1],[190,0.11],[200,0.1],[210,0.12],[220,0.11],[230,0.12],[240,0.115],[250,0.13],[260,0.12],[270,0.13],[280,0.125],[290,0.13],[298,0.12],
  [5,0.1],[15,0.11],[25,0.1],[35,0.095],[45,0.1],[55,0.095],[65,0.1],[75,0.11],[85,0.1],[95,0.105],[105,0.1],[115,0.09],[125,0.095],[135,0.09],[145,0.1],[155,0.095],[165,0.1],[175,0.11],[185,0.1],[195,0.105],[205,0.11],[215,0.1],[225,0.11],[235,0.105],[245,0.11],[255,0.12],[265,0.115],[275,0.12],[285,0.115],[295,0.12],[252,0.15],[262,0.14],[272,0.13],[282,0.14],[292,0.145],[258,0.13],[278,0.15],[298,0.14],[150,0.13],[180,0.14],[90,0.13],[70,0.135],[40,0.13],[15,0.14],
  [8,0.085],[28,0.08],[48,0.085],[68,0.09],[88,0.085],[108,0.085],[128,0.09],[148,0.092],[168,0.09],[188,0.095],[208,0.09],[228,0.095],[248,0.1],[268,0.105],[288,0.1],
  [258,0.16],[262,0.18],[268,0.15],[275,0.17],[282,0.16],[290,0.15],[298,0.17],[255,0.14],[285,0.14],[160,0.14],[170,0.16],[140,0.14],[130,0.145],[65,0.15],[70,0.2],[60,0.13],[35,0.14],[45,0.12],[110,0.2],
  [20,0.07],[50,0.065],[80,0.07],[115,0.075],[150,0.072],[190,0.075],[230,0.08],[260,0.085],[10,0.065],[100,0.058],[170,0.065],
  [2,6],[6,5.5],[10,5.8],[14,5],[18,4.5],[22,4],[12,3.5],[20,3],[25,3.3],[28,2.6],[32,2.2],[35,1.9],[38,1.6],[42,1.4],[45,1.2],[48,1.0],[52,0.9],[55,0.8],[58,0.7],[62,0.6],[65,0.52],[68,0.46],[72,0.4],[75,0.35],[22,2.0],[26,1.8],[30,1.0],[34,0.85],[38,0.75],[40,0.6],[42,0.5],[45,0.45],[48,0.4],[52,0.36],[55,0.32],[20,0.7],[24,0.6],[28,0.5],[32,0.42],[36,0.38],[18,0.45],[15,0.38],[25,0.32],[40,1.0],[45,0.7],[50,0.55],[60,0.45],[30,0.65],[35,0.55],[40,0.9],[16,0.55],[20,1.05],[58,0.38],[50,1.5],[55,1.3],[62,1.0],[30,1.4],[28,3.2],[8,4.8],[15,5.6],
  [4,3.5],[8,2.8],[12,4.5],[16,3.8],[20,2.5],[24,2.2],[26,1.5],[30,1.8],[33,1.2],[36,1.0],[38,1.3],[40,0.8],[43,0.65],[46,0.9],[48,0.6],[50,0.7],[53,0.5],[56,0.55],[58,0.5],[60,0.38],[63,0.4],[66,0.35],[70,0.32],[24,0.4],[28,0.35],[32,0.3],[36,0.45],[40,0.4],[44,0.35],[48,0.32],[26,0.8],[30,0.55],[34,0.65],[38,0.55],[22,0.5],[20,0.38],[44,1.1],[48,0.85],[52,1.0],[56,0.7],[60,0.8],[64,0.6],[68,0.55],[72,0.5],[76,0.45],[80,0.4],[84,0.38],[88,0.35],[20,5.2],[10,6.5],[6,7.2],[26,4.5],[32,3.5],[36,2.8],[40,2.2],[44,1.8],[48,1.4],
  [82,4.2],[95,2.5],[110,1.8],[90,1.1],[100,0.8],[120,0.6],[130,1.2],[140,0.9],[150,0.45],[165,0.7],[180,0.4],[200,0.55],[210,2.8],[135,14],[85,0.5],[100,0.4],[115,0.35],[125,0.42],[145,0.38],[160,0.33],[175,0.55],[190,0.35],[230,0.4],[250,0.5],[240,0.32],[88,3.0],[105,1.5],[70,0.9],[78,0.65],[95,0.32],
  [92,0.6],[100,1.0],[110,0.7],[120,0.45],[130,0.55],[140,0.4],[155,0.6],[170,0.45],[185,0.55],[205,0.38],[220,0.5],[260,0.35],[115,2.5],[160,1.8],[195,1.2],[240,0.8]];

const xTicks = [0, 100, 200, 300];
const velTicks = [400, 600, 800];

// ---------------------------------------------------------------- layout
const W = 245, H = 199;
const colLeft = [86, 371];
const rowTop = [28, 250, 472];

const colors = {
  gray: "#d3d3d3",
  cyan: "#17becf",
  orange: "#e8640e",
  mid: "#f38f4f",
  light: "#fdc08c",
  ocb: "#128c8c",
  note: "#1a9898"
};

const svg = d3.select("#chart");

const x = d3.scaleLinear().domain([0, 300]).range([0, W]);
const yScales = [
  d3.scaleLinear().domain([258, 904]).range([H, 0]),
  d3.scaleLog().domain([0.00415, 1.74]).range([H, 0]),
  d3.scaleLog().domain([0.0511, 18.45]).range([H, 0])
];

const panels = [
  { row: 0, col: 0, gray: pfssVelGray, mid: pfssVelMid, light: pfssVelLight, orange: pfssVelOrange, cyan: pfssVelCyan },
  { row: 0, col: 1, gray: tdmfVelGray, mid: tdmfVelMid, light: tdmfVelLight, orange: tdmfVelOrange, cyan: tdmfVelCyan },
  { row: 1, col: 0, gray: pfssOxGray, mid: pfssOxMid, light: pfssOxLight, orange: pfssOxOrange, cyan: pfssOxCyan },
  { row: 1, col: 1, gray: tdmfOxGray, mid: tdmfOxMid, light: tdmfOxLight, orange: tdmfOxOrange, cyan: tdmfOxCyan },
  { row: 2, col: 0, gray: pfssCGray, mid: pfssCMid, light: pfssCLight, orange: pfssCOrange, cyan: pfssCCyan },
  { row: 2, col: 1, gray: tdmfCGray, mid: tdmfCMid, light: tdmfCLight, orange: tdmfCOrange, cyan: tdmfCCyan }
];

const supers = { "-2": "\u22122", "-1": "\u22121", "0": "0", "1": "1" };

function logLabels(sel) {
  sel.selectAll(".tick text").each(function (d) {
    const t = d3.select(this);
    const e = Math.round(Math.log10(d));
    t.text("10");
    t.append("tspan").attr("dy", "-0.55em").attr("font-size", "0.72em").text(supers[e]);
  });
}

panels.forEach((p) => {
  const y = yScales[p.row];
  const g = svg.append("g")
    .attr("transform", `translate(${colLeft[p.col]},${rowTop[p.row]})`);

  const clipId = `clip-${p.row}-${p.col}`;
  g.append("clipPath").attr("id", clipId)
    .append("rect").attr("width", W).attr("height", H);

  const plot = g.append("g").attr("clip-path", `url(#${clipId})`);

  const layer = (data, color, r, op) =>
    plot.append("g").selectAll("circle")
      .data(data)
      .join("circle")
      .attr("cx", (d) => x(d[0]))
      .attr("cy", (d) => y(d[1]))
      .attr("r", r)
      .attr("fill", color)
      .attr("fill-opacity", op);

  layer(p.gray, colors.gray, 1.8, 0.9);
  layer(p.light, colors.light, 2.8, 1);
  layer(p.mid, colors.mid, 2.8, 1);
  layer(p.orange, colors.orange, 2.8, 1);
  layer(p.cyan, colors.cyan, 2.8, 1);

  // threshold line (O7+/O6+ only)
  if (p.row === 1) {
    plot.append("line")
      .attr("x1", 0).attr("x2", W)
      .attr("y1", y(o7Threshold)).attr("y2", y(o7Threshold))
      .attr("stroke", "#4a4a4a").attr("stroke-width", 1.3)
      .attr("stroke-dasharray", "8,2.5,1.5,2.5");
  }

  // boundary width
  const w = ocbWidth[p.row][p.col];
  plot.append("line")
    .attr("x1", x(w)).attr("x2", x(w))
    .attr("y1", 0).attr("y2", H)
    .attr("stroke", colors.ocb).attr("stroke-width", 1.5);

  const labelY = p.row === 0 ? H - 29 : 37;
  g.append("text")
    .attr("x", W - 6).attr("y", labelY)
    .attr("text-anchor", "end")
    .attr("font-size", 15.5)
    .attr("fill", colors.note)
    .text(`${w} Mm`);

  // axes
  const xAxis = g.append("g")
    .attr("transform", `translate(0,${H})`)
    .call(d3.axisBottom(x).tickValues(xTicks).tickSize(5).tickPadding(4).tickSizeOuter(0));
  if (p.row !== 2) xAxis.selectAll(".tick text").remove();

  let yAxis;
  if (p.row === 0) {
    yAxis = g.append("g").call(d3.axisLeft(y).tickValues(velTicks).tickSize(5).tickPadding(4).tickSizeOuter(0));
  } else {
    const [lo, hi] = y.domain();
    const major = y.ticks().filter((v) => Math.abs(Math.log10(v) - Math.round(Math.log10(v))) < 1e-6 && v >= lo && v <= hi);
    const minor = y.ticks().filter((v) => !major.includes(v));
    g.append("g").call(d3.axisLeft(y).tickValues(minor).tickSize(2.8).tickFormat("").tickSizeOuter(0))
      .call((s) => s.select(".domain").remove());
    yAxis = g.append("g").call(d3.axisLeft(y).tickValues(major).tickSize(5).tickPadding(4).tickSizeOuter(0));
    if (p.col === 0) yAxis.call(logLabels);
  }
  if (p.col !== 0) yAxis.selectAll(".tick text").remove();

  g.selectAll(".tick line").attr("stroke", "#222").attr("stroke-width", 0.9);
  g.selectAll(".tick text").attr("font-size", 14.5).attr("fill", "#222")
    .attr("font-family", "DejaVu Sans, sans-serif");
  g.selectAll(".domain").remove();

  // frame
  g.append("rect")
    .attr("width", W).attr("height", H)
    .attr("fill", "none").attr("stroke", "#222").attr("stroke-width", 1);
});

// column titles and x labels
columns.forEach((c, i) => {
  svg.append("text")
    .attr("x", colLeft[i] + W / 2).attr("y", 21)
    .attr("text-anchor", "middle")
    .attr("font-size", 18.5).attr("fill", "#222")
    .text(c);
  svg.append("text")
    .attr("x", colLeft[i] + W / 2).attr("y", 716)
    .attr("text-anchor", "middle")
    .attr("font-size", 16.5).attr("fill", "#222")
    .text("Distance to OCB [Mm]");
});

// y labels
const ylab = (row) => svg.append("text")
  .attr("transform", `translate(33,${rowTop[row] + H / 2}) rotate(-90)`)
  .attr("text-anchor", "middle")
  .attr("font-size", 16.5).attr("fill", "#222");

const l0 = ylab(0);
l0.append("tspan").attr("font-style", "italic").text("\u03b1");
l0.append("tspan").text(" velocity [km/s]");

const ionLabel = (row, el, a, b) => {
  const t = ylab(row);
  t.append("tspan").text(el);
  t.append("tspan").attr("dy", "-0.45em").attr("font-size", "0.7em").text(a);
  t.append("tspan").attr("dy", "0.45em").text("/" + el);
  t.append("tspan").attr("dy", "-0.45em").attr("font-size", "0.7em").text(b);
};
ionLabel(1, "O", "7+", "6+");
ionLabel(2, "C", "6+", "5+");
</script>
</body>
</html>
